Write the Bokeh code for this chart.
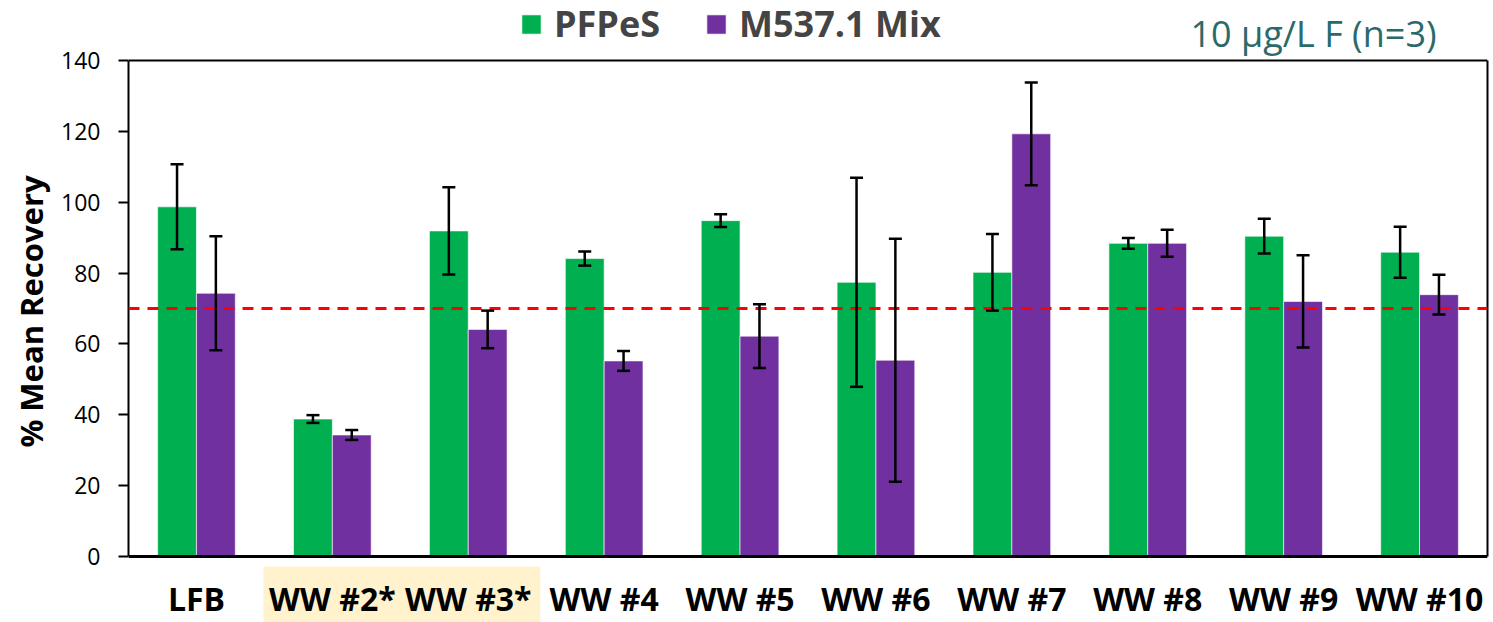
from bokeh.plotting import figure
from bokeh.models import (ColumnDataSource, Whisker, Span, BoxAnnotation, Legend,
                          LegendItem, Label, FixedTicker, Range1d, TeeHead, LinearAxis)
from bokeh.embed import file_html
from bokeh.resources import INLINE

categories = ["LFB", "WW #2*", "WW #3*", "WW #4", "WW #5", "WW #6", "WW #7", "WW #8", "WW #9", "WW #10"]
pfpes = [98.7, 38.8, 91.9, 84.1, 94.8, 77.4, 80.2, 88.4, 90.4, 85.9]
pfpes_err = [12.0, 1.1, 12.3, 2.0, 1.8, 29.5, 10.8, 1.5, 4.9, 7.2]
mix = [74.3, 34.3, 64.1, 55.2, 62.2, 55.4, 119.3, 88.4, 72.0, 73.9]
mix_err = [16.1, 1.4, 5.3, 2.8, 9.0, 34.3, 14.5, 3.8, 13.0, 5.6]
threshold = 70
highlighted = ["WW #2*", "WW #3*"]
y_ticks = [0, 20, 40, 60, 80, 100, 120, 140]
Y_MAX = 140

GREEN = "#00B050"
PURPLE = "#7030A0"
FONT = "Open Sans"
BW = 2 / 7

W, H = 1493, 622
LEFT, RIGHT, TOP_PX, ZERO_PX = 128, 1487, 60, 556   # frame geometry (canvas px)
k = (ZERO_PX - TOP_PX) / Y_MAX                        # px per unit

idx = list(range(len(categories)))
src = ColumnDataSource(dict(
    xg=[i - BW / 2 for i in idx], xm=[i + BW / 2 for i in idx],
    pfpes=pfpes, mix=mix,
    g_lo=[v - e for v, e in zip(pfpes, pfpes_err)], g_hi=[v + e for v, e in zip(pfpes, pfpes_err)],
    m_lo=[v - e for v, e in zip(mix, mix_err)], m_hi=[v + e for v, e in zip(mix, mix_err)],
))

p = figure(width=W, height=H, x_range=Range1d(-0.5, len(categories) - 0.5),
           y_range=Range1d(-(H - ZERO_PX) / k, ZERO_PX / k),
           output_backend="svg", toolbar_location=None,
           min_border_left=LEFT, min_border_right=W - RIGHT, min_border_top=0, min_border_bottom=0)
p.grid.visible = False
p.outline_line_color = None
p.background_fill_color = "white"
p.border_fill_color = "white"

# highlight behind the WW #2*, WW #3* labels
hi_idx = [categories.index(c) for c in highlighted]
p.add_layout(BoxAnnotation(left=min(hi_idx) - 0.507, right=max(hi_idx) + 0.53, top=-2.8,
                           fill_color="#FFF2CC", fill_alpha=1, line_color=None, level="underlay"))

rg = p.vbar(x="xg", top="pfpes", width=BW, source=src, fill_color=GREEN, line_color="white",
            line_alpha=0.6, line_width=1)
rm = p.vbar(x="xm", top="mix", width=BW, source=src, fill_color=PURPLE, line_color="white",
            line_alpha=0.6, line_width=1)

p.add_layout(Span(location=threshold, dimension="width", line_color="#FF0000",
                  line_dash="11 8", line_width=3))
# top border of the plot box
p.add_layout(Span(location=Y_MAX, dimension="width", line_color="black", line_width=2))

for base, lo, hi in (("xg", "g_lo", "g_hi"), ("xm", "m_lo", "m_hi")):
    w = Whisker(base=base, lower=lo, upper=hi, source=src, line_color="black", line_width=2.5,
                level="annotation",
                upper_head=TeeHead(size=13, line_width=2.5, line_color="black"),
                lower_head=TeeHead(size=13, line_width=2.5, line_color="black"))
    p.add_layout(w)

# y axis
p.yaxis.bounds = (0, Y_MAX)
p.yaxis.ticker = FixedTicker(ticks=y_ticks)
p.yaxis.major_tick_out = 10
p.yaxis.major_tick_in = 0
p.yaxis.minor_tick_line_color = None
p.yaxis.axis_line_width = 2
p.yaxis.major_tick_line_width = 2
p.yaxis.major_label_text_font = FONT
p.yaxis.major_label_text_font_size = "23px"
p.yaxis.major_label_text_color = "black"
p.yaxis.major_label_standoff = 18
p.yaxis.axis_label = "% Mean Recovery"
p.yaxis.axis_label_text_font = FONT
p.yaxis.axis_label_text_font_style = "bold"
p.yaxis.axis_label_text_font_size = "31px"
p.yaxis.axis_label_text_color = "black"
p.yaxis.axis_label_standoff = 6

# right border of the plot box
rax = LinearAxis(bounds=(0, Y_MAX), ticker=FixedTicker(ticks=[]), major_tick_out=0,
                 major_tick_in=0, minor_tick_out=0, minor_tick_in=0, major_label_standoff=0,
                 axis_line_width=2, axis_line_color="black")
p.add_layout(rax, "right")

# x axis at y = 0
p.xaxis.fixed_location = 0
p.xaxis.ticker = FixedTicker(ticks=idx)
p.xaxis.major_label_overrides = {i: c for i, c in zip(idx, categories)}
p.xaxis.major_tick_out = 0
p.xaxis.major_tick_in = 0
p.xaxis.minor_tick_line_color = None
p.xaxis.axis_line_width = 3
p.xaxis.major_label_text_font = FONT
p.xaxis.major_label_text_font_style = "bold"
p.xaxis.major_label_text_font_size = "32px"
p.xaxis.major_label_text_color = "black"
p.xaxis.major_label_standoff = 20

legend = Legend(items=[LegendItem(label="PFPeS", renderers=[rg]),
                       LegendItem(label="M537.1 Mix", renderers=[rm])],
                orientation="horizontal", location=(391, 574), border_line_color=None,
                background_fill_alpha=0, padding=0, margin=0, spacing=44, label_standoff=11,
                glyph_width=24, glyph_height=24, label_text_font=FONT,
                label_text_font_style="bold", label_text_font_size="36px")
p.add_layout(legend)

p.add_layout(Label(x=8.22, y=147.6, text="10 µg/L F (n=3)", text_align="center",
                   text_baseline="alphabetic", text_font=FONT, text_font_size="36px",
                   text_color="#2B6A6B"))

open("out.html", "w").write(file_html(p, INLINE))
